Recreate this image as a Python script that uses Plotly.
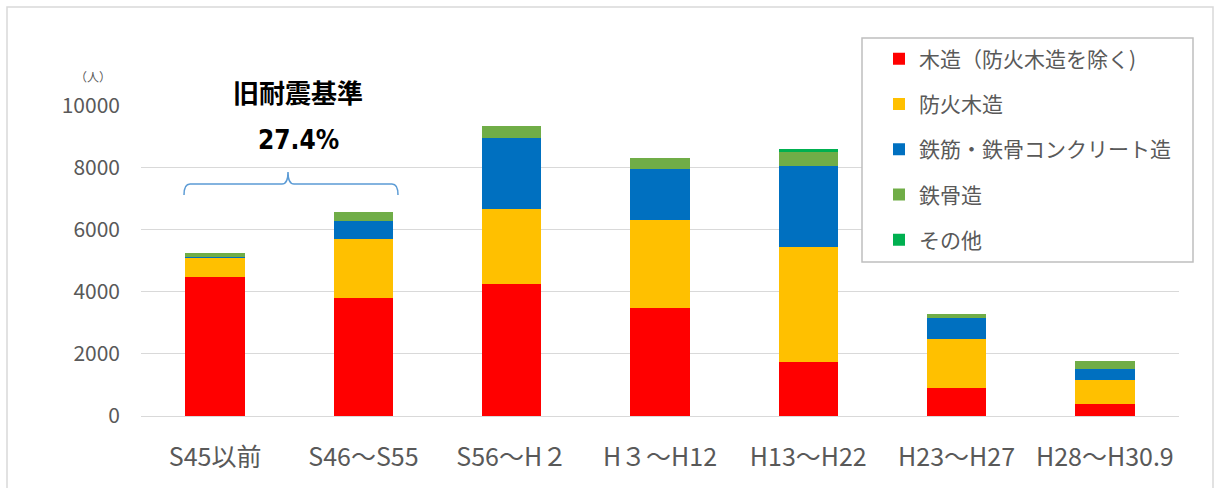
import plotly.graph_objects as go

categories = ["S45以前", "S46〜S55", "S56〜H２", "H３〜H12", "H13〜H22", "H23〜H27", "H28〜H30.9"]
series_names = ["木造（防火木造を除く)", "防火木造", "鉄筋・鉄骨コンクリート造", "鉄骨造", "その他"]
wood = [4470, 3800, 4250, 3490, 1730, 900, 380]
fireproof_wood = [630, 1920, 2440, 2840, 3710, 1580, 775]
rc_src = [30, 560, 2270, 1630, 2620, 680, 370]
steel = [140, 300, 400, 355, 440, 120, 245]
other = [0, 0, 0, 0, 100, 0, 0]
y_ticks = [0, 2000, 4000, 6000, 8000, 10000]
y_tick_labels = ["0", "2000", "4000", "6000", "8000", "10000"]
colors = ["#FF0000", "#FFC000", "#0070C0", "#70AD47", "#00B050"]

W, H = 1214, 488
L, R, T, B = 141, 1179, 105, 416
YMAX = 10030


def xp(X):
    return (X - L) / (R - L)


def yp(Y):
    return (B - Y) / (B - T)


FONT = "Noto Sans CJK JP, Noto Sans, sans-serif"
GRAY = "#595959"

fig = go.Figure()
for i, (name, vals) in enumerate(zip(series_names, [wood, fireproof_wood, rc_src, steel, other])):
    fig.add_trace(go.Bar(
        x=categories, y=vals, name=name,
        marker=dict(color=colors[i], line=dict(width=0)),
        legendgroup=f"g{i}",
    ))

shapes = []
# outer chart frame
shapes.append(dict(type="rect", xref="paper", yref="paper",
                   x0=xp(7), x1=xp(1213), y0=yp(7), y1=yp(520),
                   line=dict(color="#D9D9D9", width=1.5), fillcolor="rgba(0,0,0,0)", layer="above"))
# white text box behind annotation
shapes.append(dict(type="rect", xref="paper", yref="paper",
                   x0=xp(184), x1=xp(413), y0=yp(72), y1=yp(165),
                   line=dict(width=0), fillcolor="white", layer="above"))
# legend frame
shapes.append(dict(type="rect", xref="paper", yref="paper",
                   x0=xp(862), x1=xp(1193), y0=yp(38), y1=yp(262),
                   line=dict(color="#BFBFBF", width=1.5), fillcolor="white", layer="above"))


def P(X, Y):
    return f"{xp(X):.5f},{yp(Y):.5f}"


bracket = (f"M{P(184,195)} Q{P(184,184)} {P(190,184)} L{P(282,184)} "
           f"Q{P(288,184)} {P(288,172)} Q{P(288,184)} {P(294,184)} "
           f"L{P(392,184)} Q{P(398,184)} {P(398,195)}")
shapes.append(dict(type="path", xref="paper", yref="paper", path=bracket,
                   line=dict(color="#5B9BD5", width=1.5), layer="above"))

annotations = [
    dict(text="旧耐震基準", x=xp(298), y=yp(92), xref="paper", yref="paper",
         xanchor="center", yanchor="middle",
         showarrow=False, font=dict(family=FONT, size=26, color="black", weight="bold")),
    dict(text="27.4%", x=xp(298), y=yp(140), xref="paper", yref="paper",
         xanchor="center", yanchor="middle",
         showarrow=False,
         font=dict(family="Liberation Sans Narrow, DejaVu Sans Condensed, Noto Sans CJK JP, sans-serif",
                   size=26, color="black", weight="bold")),
    dict(text="（人）", x=xp(93), y=yp(76), xref="paper", yref="paper",
         xanchor="center", yanchor="middle",
         showarrow=False, font=dict(family=FONT, size=12, color=GRAY)),
]

fig.update_layout(
    width=W, height=H, autosize=False,
    margin=dict(l=L, r=W - R, t=T, b=H - B, pad=0),
    paper_bgcolor="white", plot_bgcolor="white",
    barmode="stack", bargap=0.6,
    font=dict(family=FONT, color=GRAY),
    shapes=shapes, annotations=annotations,
    legend=dict(
        x=xp(879), y=yp(38.5), xanchor="left", yanchor="top",
        xref="paper", yref="paper",
        bgcolor="rgba(0,0,0,0)", borderwidth=0,
        traceorder="grouped", tracegroupgap=15,
        font=dict(family=FONT, size=21, color=GRAY),
    ),
    showlegend=True,
)
fig.update_xaxes(showgrid=False, showline=False, zeroline=False, ticks="",
                 tickfont=dict(family=FONT, size=25, color=GRAY),
                 ticklabelstandoff=24)
fig.update_yaxes(range=[0, YMAX], tickvals=y_ticks, ticktext=y_tick_labels, ticks="",
                 showgrid=True, gridcolor="#D9D9D9", gridwidth=1.3,
                 zeroline=True, zerolinecolor="#D9D9D9", zerolinewidth=1.3,
                 showline=False,
                 tickfont=dict(family=FONT, size=21, color=GRAY),
                 ticklabelstandoff=20)

fig.write_html("out.html")
